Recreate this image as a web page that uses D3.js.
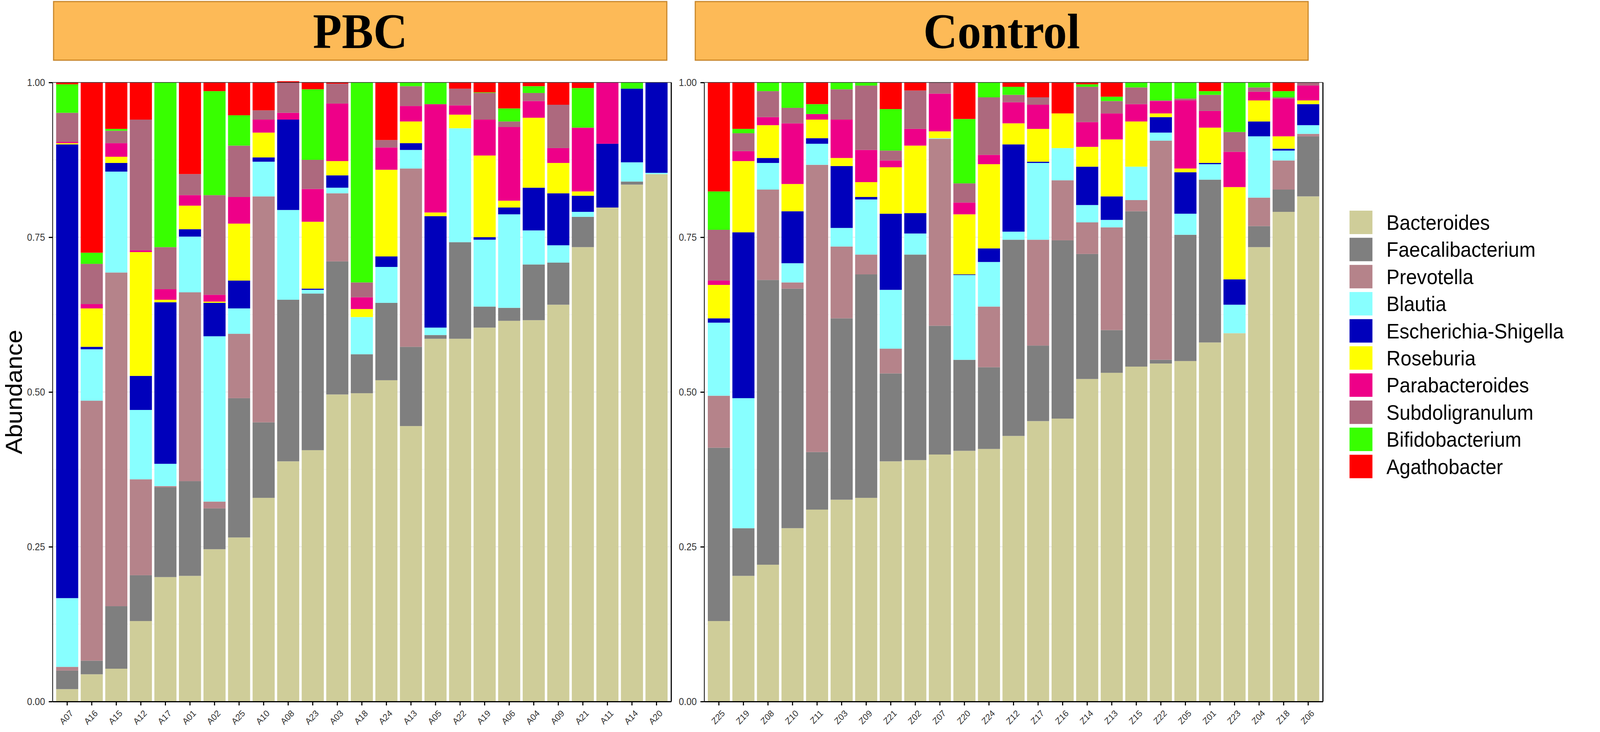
<!DOCTYPE html>
<html>
<head>
<meta charset="utf-8">
<script src="https://cdn.jsdelivr.net/npm/d3@7"></script>
<style>
  html, body { margin: 0; padding: 0; background: #fff; overflow: hidden; }
  svg { display: block; width: 100vw; height: 100vh; }
</style>
</head>
<body>
<svg id="chart"></svg>
<script>
// ---- data (bottom of stack first) ----
const genera = ["Bacteroides", "Faecalibacterium", "Prevotella", "Blautia", "Escherichia-Shigella",
  "Roseburia", "Parabacteroides", "Subdoligranulum", "Bifidobacterium", "Agathobacter"];
const generaColors = ["#CFCD99", "#7F7F7F", "#B5838A", "#88FFFF", "#0000BB",
  "#FFFF00", "#EE0088", "#AD697E", "#38FF00", "#FF0000"];
const yTicks = [0, 0.25, 0.5, 0.75, 1];

const pbcSamples = ["A07","A16","A15","A12","A17","A01","A02","A25","A10","A08","A23","A03","A18",
  "A24","A13","A05","A22","A19","A06","A04","A09","A21","A11","A14","A20"];
const pbcBacteroides = [0.020,0.044,0.053,0.130,0.201,0.203,0.246,0.265,0.329,0.388,0.406,0.496,0.498,0.519,0.445,0.586,0.586,0.604,0.615,0.616,0.641,0.734,0.798,0.835,0.852];
const pbcFaecalibacterium = [0.030,0.022,0.101,0.074,0.145,0.153,0.066,0.225,0.122,0.261,0.253,0.215,0.063,0.125,0.128,0.006,0.156,0.034,0.021,0.090,0.068,0.049,0,0.005,0];
const pbcPrevotella = [0.006,0.420,0.539,0.155,0.002,0.305,0.011,0.104,0.365,0,0,0.110,0,0,0.288,0,0,0,0,0,0,0,0,0,0];
const pbcBlautia = [0.111,0.083,0.163,0.112,0.036,0.090,0.267,0.041,0.056,0.145,0.006,0.009,0.060,0.058,0.030,0.012,0.184,0.108,0.151,0.055,0.028,0.008,0,0.031,0.002];
const pbcEscherichia = [0.733,0.004,0.014,0.055,0.261,0.012,0.054,0.045,0.007,0.146,0.002,0.020,0,0.017,0.011,0.180,0,0.004,0.011,0.069,0.084,0.026,0.103,0.119,0.146];
const pbcRoseburia = [0.002,0.062,0.010,0.200,0.004,0.038,0.002,0.092,0.040,0,0.108,0.023,0.013,0.140,0.035,0.006,0.022,0.132,0.011,0.113,0.049,0.007,0,0,0];
const pbcParabacteroides = [0.002,0.007,0.022,0.003,0.017,0.017,0.011,0.043,0.021,0.011,0.053,0.093,0.019,0.036,0.025,0.175,0.015,0.058,0.119,0.027,0.024,0.103,0.099,0,0];
const pbcSubdoligranulum = [0.047,0.065,0.020,0.211,0.068,0.034,0.161,0.083,0.015,0.049,0.047,0.032,0.024,0.012,0.032,0,0.027,0.043,0.009,0.013,0.070,0,0,0,0];
const pbcBifidobacterium = [0.046,0.018,0.003,0,0.266,0,0.168,0.049,0,0,0.114,0,0.323,0,0.006,0.035,0,0.001,0.021,0.011,0,0.064,0,0.010,0];
const pbcAgathobacter = [0.003,0.275,0.075,0.060,0,0.148,0.014,0.053,0.045,0.002,0.011,0.002,0,0.093,0,0,0.010,0.016,0.042,0.006,0.036,0.009,0,0,0];

const controlSamples = ["Z25","Z19","Z08","Z10","Z11","Z03","Z09","Z21","Z02","Z07","Z20","Z24","Z12",
  "Z17","Z16","Z14","Z13","Z15","Z22","Z05","Z01","Z23","Z04","Z18","Z06"];
const ctlBacteroides = [0.130,0.203,0.221,0.280,0.310,0.326,0.329,0.388,0.390,0.399,0.405,0.408,0.429,0.453,0.457,0.521,0.531,0.541,0.546,0.550,0.580,0.595,0.734,0.791,0.816];
const ctlFaecalibacterium = [0.280,0.077,0.460,0.387,0.093,0.293,0.361,0.142,0.332,0.208,0.147,0.132,0.317,0.122,0.288,0.202,0.069,0.251,0.006,0.204,0.263,0,0.034,0.036,0.097];
const ctlPrevotella = [0.084,0,0.146,0.010,0.464,0.116,0.032,0.040,0,0.302,0,0.098,0,0.171,0.097,0.051,0.166,0.018,0.354,0,0,0,0.046,0.047,0.004];
const ctlBlautia = [0.118,0.210,0.043,0.031,0.034,0.030,0.089,0.095,0.034,0.001,0.137,0.072,0.013,0.124,0.052,0.028,0.012,0.054,0.013,0.034,0.025,0.046,0.099,0.016,0.014];
const ctlEscherichia = [0.007,0.268,0.008,0.084,0.009,0.100,0.004,0.123,0.033,0,0.001,0.022,0.141,0.002,0,0.062,0.038,0,0.025,0.067,0.002,0.041,0.024,0.003,0.034];
const ctlRoseburia = [0.054,0.115,0.053,0.044,0.030,0.013,0.024,0.075,0.109,0.011,0.097,0.136,0.034,0.053,0.056,0.032,0.092,0.073,0.006,0.006,0.057,0.149,0.034,0.020,0.006];
const ctlParabacteroides = [0.007,0.016,0.013,0.098,0.009,0.062,0.052,0.011,0.027,0.061,0.019,0.015,0.034,0.039,0,0.040,0.042,0.028,0.020,0.110,0.027,0.057,0.014,0.061,0.024];
const ctlSubdoligranulum = [0.082,0.029,0.042,0.025,0,0.049,0.104,0.016,0.062,0.018,0.031,0.093,0.012,0.012,0,0.057,0.020,0.027,0.001,0.003,0.026,0.032,0.007,0.002,0.005];
const ctlBifidobacterium = [0.062,0.007,0.014,0.041,0.016,0.011,0.005,0.067,0,0,0.104,0.024,0.013,0,0,0.004,0.007,0.008,0.029,0.026,0.006,0.080,0.008,0.010,0];
const ctlAgathobacter = [0.176,0.075,0,0,0.035,0,0,0.043,0.013,0,0.059,0,0.007,0.024,0.050,0.003,0.023,0,0,0,0.014,0,0,0.014,0];

const pbcSeries = [pbcBacteroides, pbcFaecalibacterium, pbcPrevotella, pbcBlautia, pbcEscherichia,
  pbcRoseburia, pbcParabacteroides, pbcSubdoligranulum, pbcBifidobacterium, pbcAgathobacter];
const ctlSeries = [ctlBacteroides, ctlFaecalibacterium, ctlPrevotella, ctlBlautia, ctlEscherichia,
  ctlRoseburia, ctlParabacteroides, ctlSubdoligranulum, ctlBifidobacterium, ctlAgathobacter];

// ---- layout ----
const W = 4331, H = 1873;
const yTop = 211, yBottom = 1795;
const headTop = 4, headBottom = 154;
const panels = [
  { title: "PBC", samples: pbcSamples, series: pbcSeries, x0: 142, x1: 1817, hx0: 145, hx1: 1805 },
  { title: "Control", samples: controlSamples, series: ctlSeries, x0: 1906, x1: 3581, hx0: 1882, hx1: 3541 }
];
const sansFont = "'Liberation Sans', Arial, Helvetica, sans-serif";

// drawn in a fixed 4331x1873 frame, stretched to whatever the window is
const svg = d3.select("#chart")
  .attr("viewBox", `0 0 ${W} ${H}`)
  .attr("preserveAspectRatio", "none");
svg.append("rect").attr("width", W).attr("height", H).attr("fill", "#fff");

const y = d3.scaleLinear().domain([0, 1]).range([yBottom, yTop]);
const color = d3.scaleOrdinal().domain(genera).range(generaColors);

panels.forEach(p => {
  // rows for d3.stack
  const rows = p.samples.map((s, i) => {
    const r = { sample: s };
    genera.forEach((g, k) => { r[g] = p.series[k][i]; });
    return r;
  });
  const stacked = d3.stack().keys(genera)(rows);

  const x = d3.scaleBand().domain(p.samples).range([p.x0, p.x1])
    .paddingInner(0.1).paddingOuter(0.15);

  const g = svg.append("g");

  // strip header
  g.append("rect")
    .attr("x", p.hx0).attr("y", headTop)
    .attr("width", p.hx1 - p.hx0).attr("height", headBottom - headTop)
    .attr("fill", "#FDBA57").attr("stroke", "#C8862A").attr("stroke-width", 3);
  g.append("text")
    .attr("x", (p.hx0 + p.hx1) / 2).attr("y", 123)
    .attr("text-anchor", "middle")
    .style("font-family", "'Liberation Serif', 'Times New Roman', serif")
    .style("font-weight", "bold").style("font-size", "128px")
    .text(p.title);

  // faint grid
  const grid = d3.range(0, 1.0001, 0.125);
  g.selectAll(".grid").data(grid).join("line")
    .attr("x1", p.x0).attr("x2", p.x1)
    .attr("y1", d => y(d)).attr("y2", d => y(d))
    .attr("stroke", "#EBEBEB").attr("stroke-width", (d, i) => i % 2 ? 1 : 2);

  // stacked bars
  g.selectAll(".layer").data(stacked).join("g")
    .attr("fill", d => color(d.key))
    .selectAll("rect").data(d => d).join("rect")
      .attr("x", d => x(d.data.sample))
      .attr("width", x.bandwidth())
      .attr("y", d => y(d[1]))
      .attr("height", d => Math.max(0, y(d[0]) - y(d[1])));

  // panel border: thin on top, heavier on the right
  g.append("line").attr("x1", p.x0).attr("x2", p.x1).attr("y1", yTop).attr("y2", yTop)
    .attr("stroke", "#222").attr("stroke-width", 1.5);
  g.append("line").attr("x1", p.x1).attr("x2", p.x1).attr("y1", yTop).attr("y2", yBottom)
    .attr("stroke", "#000").attr("stroke-width", 3);

  // y axis
  const yAxis = g.append("g").attr("transform", `translate(${p.x0},0)`)
    .call(d3.axisLeft(y).tickValues(yTicks).tickFormat(d3.format(".2f"))
      .tickSize(10).tickSizeOuter(0).tickPadding(10));
  yAxis.select(".domain").attr("stroke", "#000").attr("stroke-width", 2);
  yAxis.selectAll(".tick line").attr("stroke", "#000").attr("stroke-width", 3);
  yAxis.selectAll("text").style("font-family", sansFont).style("font-size", "25px").attr("fill", "#333");

  // x axis
  const xAxis = g.append("g").attr("transform", `translate(0,${yBottom})`)
    .call(d3.axisBottom(x).tickSize(10).tickSizeOuter(0));
  xAxis.select(".domain").attr("stroke", "#000").attr("stroke-width", 3);
  xAxis.selectAll(".tick line").attr("stroke", "#000").attr("stroke-width", 3);
  xAxis.selectAll("text")
    .attr("x", 0).attr("y", 0).attr("dy", "0.35em")
    .attr("transform", "translate(12,26) rotate(-45)")
    .style("text-anchor", "end")
    .style("font-family", sansFont).style("font-size", "23px").attr("fill", "#333");
});

// y axis title
svg.append("text")
  .attr("transform", `translate(37,${(yTop + yBottom) / 2}) rotate(-90)`)
  .attr("dy", "0.35em").attr("text-anchor", "middle")
  .style("font-family", sansFont).style("font-size", "63px")
  .text("Abundance");

// legend
const legend = svg.append("g").attr("transform", "translate(3653,539)");
const item = legend.selectAll("g").data(genera).join("g")
  .attr("transform", (d, i) => `translate(0,${i * 69.4})`);
item.append("rect").attr("width", 62).attr("height", 60).attr("fill", d => color(d));
item.append("text")
  .attr("x", 100).attr("y", 30).attr("dy", "0.36em")
  .style("font-family", sansFont).style("font-size", "53px")
  .text(d => d);
</script>
</body>
</html>
